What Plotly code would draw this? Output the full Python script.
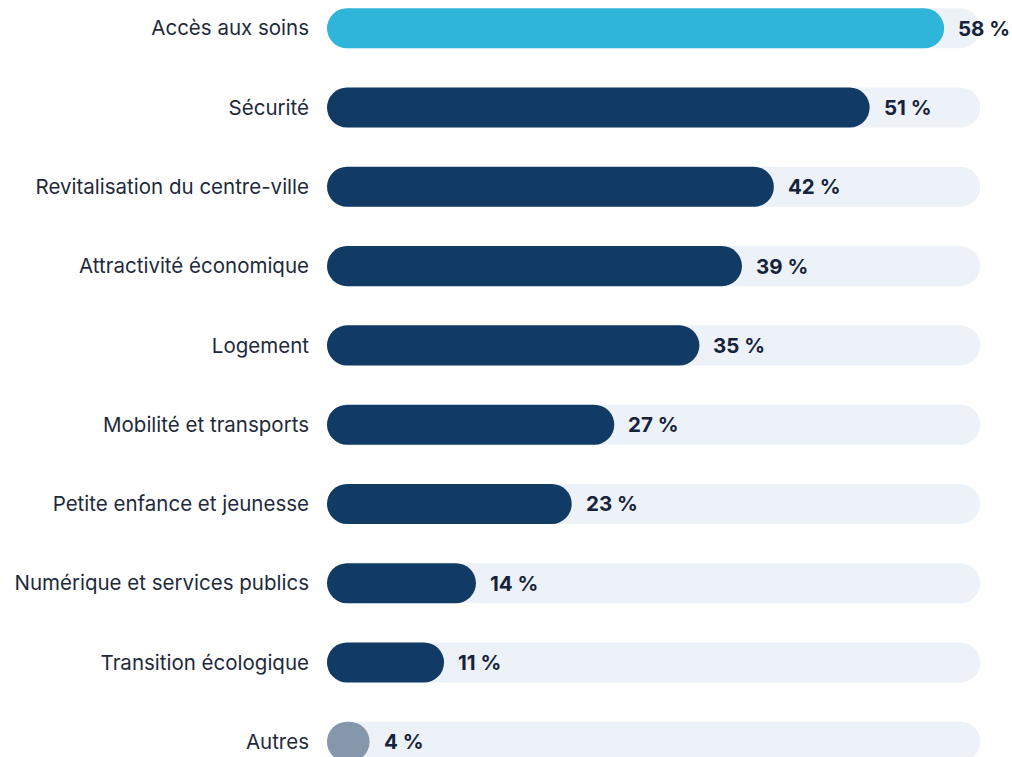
import plotly.graph_objects as go

categories = [
    "Accès aux soins",
    "Sécurité",
    "Revitalisation du centre-ville",
    "Attractivité économique",
    "Logement",
    "Mobilité et transports",
    "Petite enfance et jeunesse",
    "Numérique et services publics",
    "Transition écologique",
    "Autres",
]
values = [58, 51, 42, 39, 35, 27, 23, 14, 11, 4]
value_labels = [f"{v} %" for v in values]
track_max = 61.4

CYAN = "#2fb5da"
NAVY = "#113a64"
GREY = "#8597ab"
TRACK = "#edf1f8"
colors = [CYAN] + [NAVY] * 8 + [GREY]

ypos = list(range(len(categories)))
BW = 0.505
R = 20

fig = go.Figure()

fig.add_trace(go.Bar(y=ypos, x=[track_max] * len(categories), base=[0] * len(categories),
                     orientation="h", width=BW,
                     marker=dict(color=TRACK, cornerradius=R, line=dict(width=0)),
                     hoverinfo="skip", showlegend=False))
fig.add_trace(go.Bar(y=ypos, x=values, base=[0] * len(values), orientation="h",
                     width=BW, marker=dict(color=colors, cornerradius=R, line=dict(width=0)),
                     hoverinfo="skip", showlegend=False))

for yi, v, lab in zip(ypos, values, value_labels):
    fig.add_annotation(x=v, y=yi, text=f"<b>{lab}</b>", showarrow=False,
                       xanchor="left", yanchor="middle", xshift=12,
                       font=dict(family="Inter", size=20.5, color="#15233b"))

W, H = 1012, 757
px_per_unit = 10.64
plot_left = 327
x_max = (W - plot_left) / px_per_unit
spacing = 79.27
first_center = 28.3
top = -first_center / spacing
bottom = top + H / spacing

fig.update_layout(
    width=W, height=H,
    margin=dict(l=plot_left, r=0, t=0, b=0, autoexpand=False),
    paper_bgcolor="white", plot_bgcolor="white",
    barmode="overlay",
    hovermode=False,
    font=dict(family="Inter", size=20.5, color="#1e2a3b"),
    xaxis=dict(range=[0, x_max], visible=False, fixedrange=True),
    yaxis=dict(range=[bottom, top], tickvals=ypos, ticktext=categories, automargin=False,
               showgrid=False, zeroline=False, showline=False, ticks="",
               ticklabeloverflow="allow", fixedrange=True,
               ticklabelstandoff=17, tickfont=dict(family="Inter", size=20.5, color="#1e2a3b")),
)

fig.write_html(
    "out.html",
    config={"displayModeBar": False, "staticPlot": True},
    post_script="document.body.style.margin='0';document.body.style.overflow='hidden';",
)
